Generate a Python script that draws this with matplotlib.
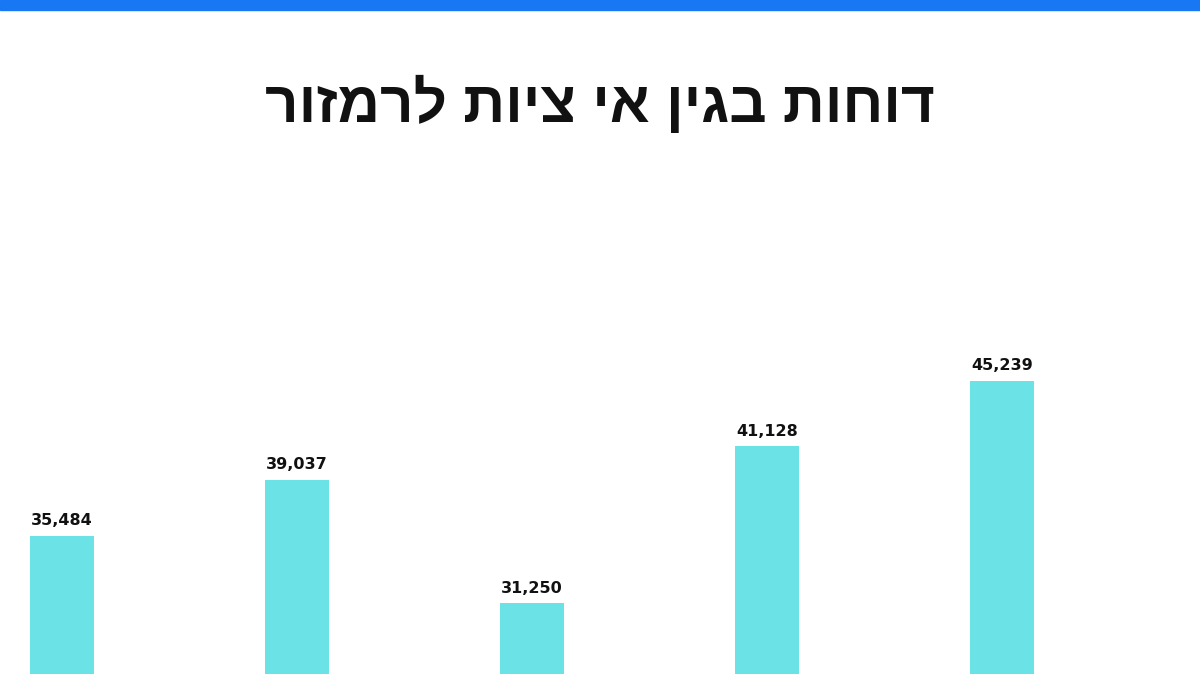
import matplotlib.pyplot as plt
from matplotlib.patches import Rectangle

# Hebrew title, stored in reading order; reversed for LTR drawing
TITLE = "דוחות בגין אי ציות לרמזור"
values = [35484, 39037, 31250, 41128, 45239]
labels = ["35,484", "39,037", "31,250", "41,128", "45,239"]

fig = plt.figure(figsize=(12, 6.74), dpi=100)
fig.patch.set_facecolor("white")

# blue strip at the top
fig.patches.append(Rectangle((0, 1 - 10 / 674), 1, 10 / 674, transform=fig.transFigure,
                             color="#1877F2", zorder=5))

fig.text(0.5, 1 - 105 / 674, TITLE[::-1], ha="center", va="center",
         fontsize=42, fontweight="bold", family=["Liberation Sans", "DejaVu Sans"], color="#111111")

ax = fig.add_axes([0, 0, 1, (674 - 150) / 674])
x = range(len(values))
ax.bar(x, values, width=0.272, color="#6BE3E6")
for i, (v, s) in enumerate(zip(values, labels)):
    ax.text(i, v + 500, s, ha="center", va="bottom", fontsize=11.5, fontweight="bold",
            color="#111111")
ax.set_xlim(-62 / 235, (1200 - 62) / 235)
ax.set_ylim(26810, 59786)
ax.axis("off")

fig.savefig("out.png", dpi=100, facecolor="white")
